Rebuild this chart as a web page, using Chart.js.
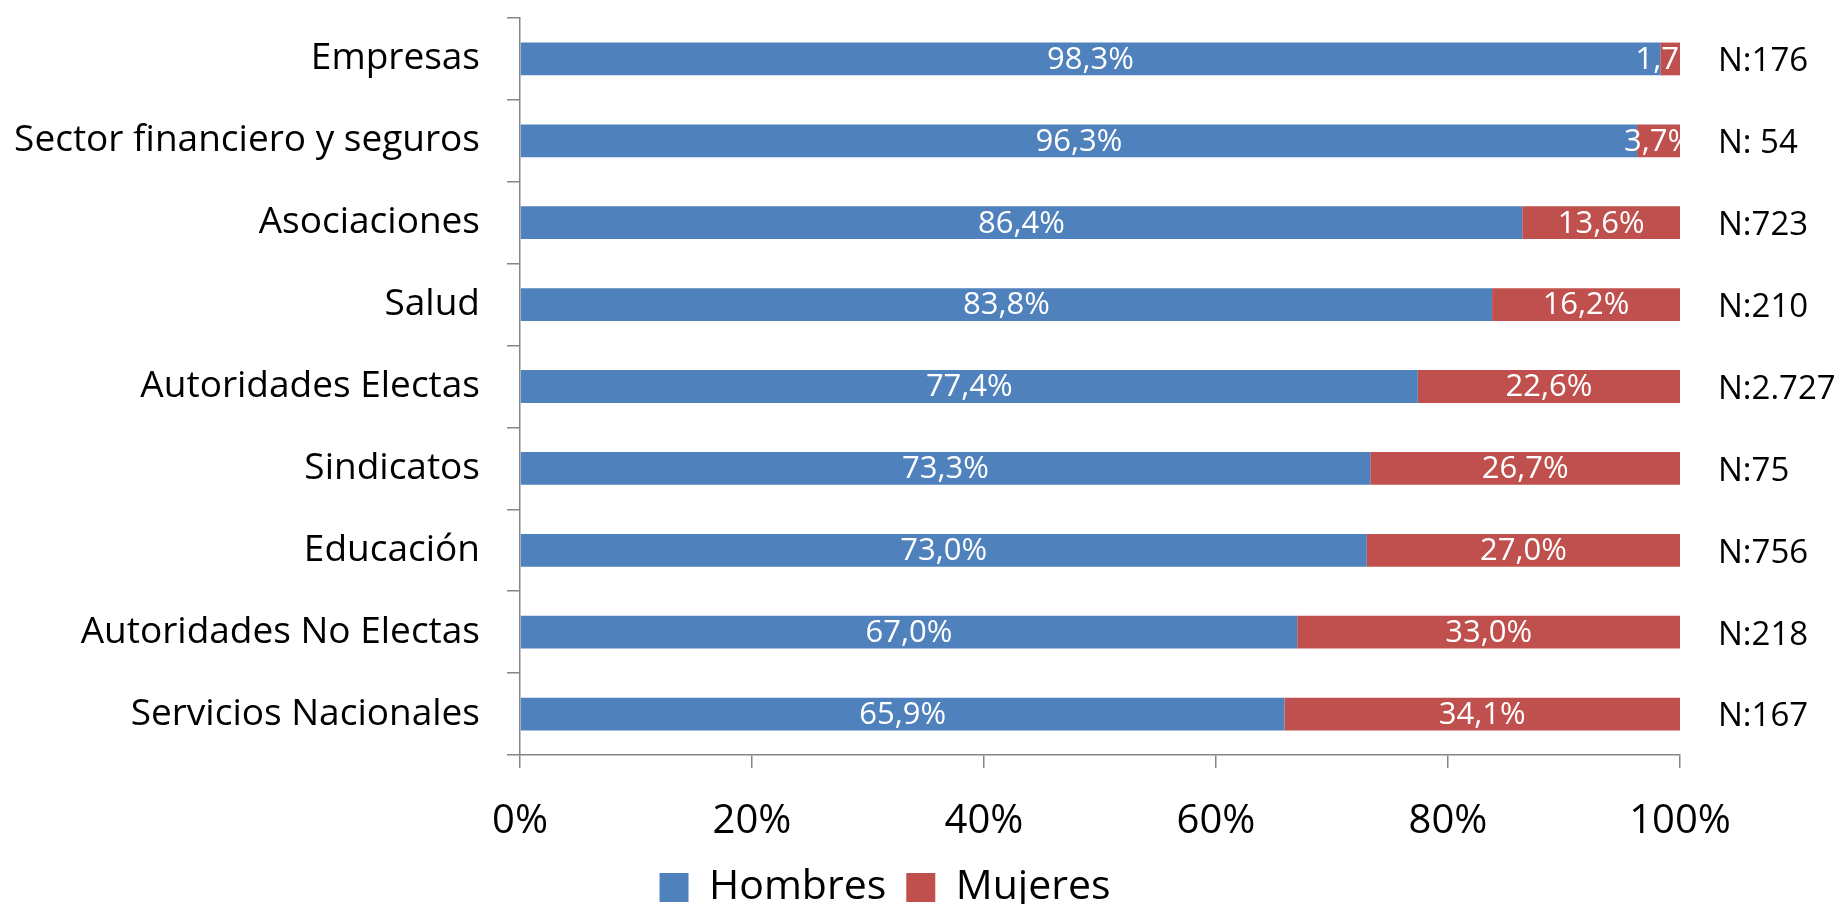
<!DOCTYPE html>
<html><head><meta charset="utf-8">
<script src="https://cdn.jsdelivr.net/npm/chart.js@4.4.0/dist/chart.umd.min.js"></script>
<style>html,body{margin:0;padding:0;background:#fff;overflow:hidden}#wrap{width:1841px;height:904px}</style>
</head><body><div id="wrap"><canvas id="c" width="1841" height="904"></canvas></div>
<script>
const categories = ["Empresas","Sector financiero y seguros","Asociaciones","Salud","Autoridades Electas","Sindicatos","Educación","Autoridades No Electas","Servicios Nacionales"];
const hombres = [98.3, 96.3, 86.4, 83.8, 77.4, 73.3, 73.0, 67.0, 65.9];
const mujeres = [1.7, 3.7, 13.6, 16.2, 22.6, 26.7, 27.0, 33.0, 34.1];
const nLabels = ["N:176","N: 54","N:723","N:210","N:2.727","N:75","N:756","N:218","N:167"];
const seriesNames = ["Hombres","Mujeres"];
const xTickStep = 20;

const FAM = "'Open Sans', 'DejaVu Sans', sans-serif";
const AXIS = '#868686';
const fmt = v => v.toFixed(1).replace('.', ',') + '%';

const labelPlugin = {
  id: 'barLabels',
  afterLayout(chart) {
    const l = chart.legend;
    if (l) { l.left += 45; l.right += 45; l.top += 14; l.bottom += 14; }
  },
  afterDatasetsDraw(chart) {
    const ctx = chart.ctx, a = chart.chartArea;
    ctx.save();
    ctx.beginPath();
    ctx.rect(a.left, a.top, a.right - a.left, a.bottom - a.top);
    ctx.clip();
    ctx.font = '31px ' + FAM;
    ctx.fillStyle = '#ffffff';
    ctx.textAlign = 'center';
    ctx.textBaseline = 'middle';
    chart.data.datasets.forEach((ds, i) => {
      chart.getDatasetMeta(i).data.forEach((bar, j) => {
        ctx.fillText(fmt(ds.data[j]), (bar.x + bar.base) / 2, bar.y + 1);
      });
    });
    ctx.restore();
    ctx.save();
    ctx.font = '33px ' + FAM;
    ctx.fillStyle = '#000';
    ctx.textAlign = 'left';
    ctx.textBaseline = 'middle';
    chart.getDatasetMeta(0).data.forEach((bar, j) => {
      ctx.fillText(nLabels[j], a.right + 38, bar.y + 3);
    });
    ctx.restore();
  }
};

new Chart(document.getElementById('c'), {
  type: 'bar',
  data: {
    labels: categories,
    datasets: [
      { label: seriesNames[0], data: hombres, backgroundColor: '#4F81BD', borderWidth: 0 },
      { label: seriesNames[1], data: mujeres, backgroundColor: '#C0504D', borderWidth: 0 }
    ]
  },
  options: {
    indexAxis: 'y',
    responsive: false,
    animation: false,
    events: [],
    categoryPercentage: 1,
    barPercentage: 0.4,
    layout: { padding: { left: 0, right: 161, top: 18, bottom: 0 } },
    plugins: {
      tooltip: { enabled: false },
      legend: {
        position: 'bottom',
        labels: { font: { size: 41, family: FAM }, color: '#000', boxWidth: 29, boxHeight: 29, padding: 20 }
      }
    },
    scales: {
      x: {
        stacked: true, min: 0, max: 100,
        ticks: { stepSize: xTickStep, callback: v => v + '%', font: { size: 40, family: FAM }, color: '#000', padding: 30, maxRotation: 0, autoSkip: false },
        grid: { drawOnChartArea: false, drawTicks: true, tickLength: 13, color: AXIS, lineWidth: 1.5 },
        border: { color: AXIS, width: 1.5 },
        afterFit(s) {
          const L = (s.chart.legend && s.chart.legend.height) || 0;
          s.height = 904 - 755 - L;
        }
      },
      y: {
        stacked: true,
        ticks: { font: { size: 37, family: FAM }, color: '#000', padding: 27, autoSkip: false },
        grid: { drawOnChartArea: false, drawTicks: true, tickLength: 13, color: AXIS, lineWidth: 1.5, offset: true },
        border: { color: AXIS, width: 1.5 },
        afterFit(s) { s.width = 520; s.paddingTop = 0; s.paddingBottom = 0; }
      }
    }
  },
  plugins: [labelPlugin]
});
</script>
</body></html>
